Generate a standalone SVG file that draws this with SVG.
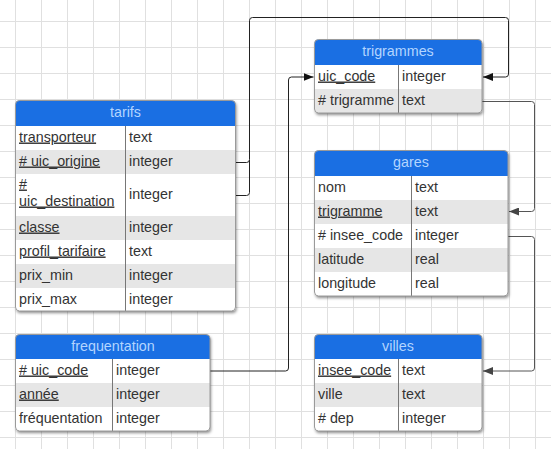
<svg xmlns="http://www.w3.org/2000/svg" width="551" height="449" viewBox="0 0 551 449">
<style>
  text { font-family: "Liberation Sans", Arial, sans-serif; font-size: 14.3px; fill: #333; }
  .hd { fill: #b3d5ff; text-anchor: middle; }
  .k { text-decoration: underline; }
  .bg { fill: #fff; filter: url(#sh); }
  .head { fill: #1a6fe3; }
  .alt { fill: #e6e6e6; }
  .brd { fill: none; stroke: #9a9a9a; stroke-width: 1; }
  .div { stroke: #777; stroke-width: 1; }
  .cd { fill: none; stroke: #222; stroke-width: 1; }
  .cg { fill: none; stroke: #555; stroke-width: 1; }
</style>
<defs>
  <pattern id="grid" x="15" y="21" width="26" height="26" patternUnits="userSpaceOnUse">
    <path d="M0.5,0 V26 M0,0.5 H26" fill="none" stroke="#e0e0e0" stroke-width="1"/>
  </pattern>
  <filter id="sh" x="-10%" y="-10%" width="120%" height="130%">
    <feDropShadow dx="1" dy="2" stdDeviation="1.5" flood-color="#000" flood-opacity="0.45"/>
  </filter>
  <marker id="ab" viewBox="0 0 10 8" refX="10" refY="4" markerWidth="10" markerHeight="8" markerUnits="userSpaceOnUse" orient="auto">
    <path d="M0,0 L10,4 L0,8 Z" fill="#111"/>
  </marker>
  <marker id="ag" viewBox="0 0 10 8" refX="10" refY="4" markerWidth="10" markerHeight="8" markerUnits="userSpaceOnUse" orient="auto">
    <path d="M0,0 L10,4 L0,8 Z" fill="#444"/>
  </marker>
</defs>
<rect x="0" y="0" width="551" height="449" fill="#fff"/>
<rect x="0" y="0" width="551" height="449" fill="url(#grid)"/>

<g id="connectors">
  <path class="cd" d="M236,162.5 H246.5 Q249.5,162.5 249.5,159.5 V20.5 Q249.5,17.5 252.5,17.5 H505.5 Q508.5,17.5 508.5,20.5 V74 Q508.5,77 505.5,77 H483" marker-end="url(#ab)"/>
  <path class="cd" d="M236,195.5 H246.5 Q249.5,195.5 249.5,192.5 V160"/>
  <path class="cd" d="M210,371 H285.5 Q288.5,371 288.5,368 V80 Q288.5,77 291.5,77 H313.5" marker-end="url(#ab)"/>
  <path class="cg" d="M482,101.5 H531.5 Q534.5,101.5 534.5,104.5 V208.5 Q534.5,211.5 531.5,211.5 H509" marker-end="url(#ag)"/>
  <path class="cg" d="M508,236.5 H531.5 Q534.5,236.5 534.5,239.5 V368 Q534.5,371 531.5,371 H483" marker-end="url(#ag)"/>
</g>

<g id="tarifs">
  <rect class="bg" x="15.5" y="100.5" width="220" height="210.5" rx="4"/>
  <path class="head" d="M15.5,126 V104.5 Q15.5,100.5 19.5,100.5 H231.5 Q235.5,100.5 235.5,104.5 V126 Z"/>
  <rect class="alt" x="15.5" y="150" width="220" height="24"/>
  <rect class="alt" x="15.5" y="216" width="220" height="24"/>
  <rect class="alt" x="15.5" y="264" width="220" height="24"/>
  <line class="div" x1="125.5" y1="126" x2="125.5" y2="311"/>
  <rect class="brd" x="15.5" y="100.5" width="220" height="210.5" rx="4"/>
  <text class="hd" x="125.5" y="116.5">tarifs</text>
  <text class="k" x="19" y="141.5">transporteur</text><text x="129" y="141.5">text</text>
  <text class="k" x="19" y="165.5"># uic_origine</text><text x="129" y="165.5">integer</text>
  <text class="k" x="19" y="188.5">#</text><text class="k" x="19" y="205.5">uic_destination</text><text x="129" y="198.5">integer</text>
  <text class="k" x="19" y="231.5">classe</text><text x="129" y="231.5">integer</text>
  <text class="k" x="19" y="255.5">profil_tarifaire</text><text x="129" y="255.5">text</text>
  <text x="19" y="279.5">prix_min</text><text x="129" y="279.5">integer</text>
  <text x="19" y="303.5">prix_max</text><text x="129" y="303.5">integer</text>
</g>

<g id="trigrammes">
  <rect class="bg" x="314.5" y="39.5" width="167.5" height="73.5" rx="4"/>
  <path class="head" d="M314.5,65 V43.5 Q314.5,39.5 318.5,39.5 H478 Q482,39.5 482,43.5 V65 Z"/>
  <path class="alt" d="M314.5,89 H482 V109 Q482,113 478,113 H318.5 Q314.5,113 314.5,109 Z"/>
  <line class="div" x1="398.5" y1="65" x2="398.5" y2="113"/>
  <rect class="brd" x="314.5" y="39.5" width="167.5" height="73.5" rx="4"/>
  <text class="hd" x="398" y="55.5">trigrammes</text>
  <text class="k" x="318" y="80.5">uic_code</text><text x="402" y="80.5">integer</text>
  <text x="318" y="104.5"># trigramme</text><text x="402" y="104.5">text</text>
</g>

<g id="gares">
  <rect class="bg" x="314.5" y="150.5" width="193.5" height="145.5" rx="4"/>
  <path class="head" d="M314.5,176 V154.5 Q314.5,150.5 318.5,150.5 H504 Q508,150.5 508,154.5 V176 Z"/>
  <rect class="alt" x="314.5" y="200" width="193.5" height="24"/>
  <rect class="alt" x="314.5" y="248" width="193.5" height="24"/>
  <line class="div" x1="411.5" y1="176" x2="411.5" y2="296"/>
  <rect class="brd" x="314.5" y="150.5" width="193.5" height="145.5" rx="4"/>
  <text class="hd" x="411" y="166.5">gares</text>
  <text x="318" y="191.5">nom</text><text x="415" y="191.5">text</text>
  <text class="k" x="318" y="215.5">trigramme</text><text x="415" y="215.5">text</text>
  <text x="318" y="239.5"># insee_code</text><text x="415" y="239.5">integer</text>
  <text x="318" y="263.5">latitude</text><text x="415" y="263.5">real</text>
  <text x="318" y="287.5">longitude</text><text x="415" y="287.5">real</text>
</g>

<g id="frequentation">
  <rect class="bg" x="15.5" y="334.5" width="194.5" height="96.5" rx="4"/>
  <path class="head" d="M15.5,359 V338.5 Q15.5,334.5 19.5,334.5 H206 Q210,334.5 210,338.5 V359 Z"/>
  <rect class="alt" x="15.5" y="383" width="194.5" height="24"/>
  <line class="div" x1="112.5" y1="359" x2="112.5" y2="431"/>
  <rect class="brd" x="15.5" y="334.5" width="194.5" height="96.5" rx="4"/>
  <text class="hd" x="113" y="350.5">frequentation</text>
  <text class="k" x="19" y="374.5"># uic_code</text><text x="116" y="374.5">integer</text>
  <text class="k" x="19" y="398.5">année</text><text x="116" y="398.5">integer</text>
  <text x="19" y="422.5">fréquentation</text><text x="116" y="422.5">integer</text>
</g>

<g id="villes">
  <rect class="bg" x="314.5" y="334.5" width="167.5" height="96.5" rx="4"/>
  <path class="head" d="M314.5,359 V338.5 Q314.5,334.5 318.5,334.5 H478 Q482,334.5 482,338.5 V359 Z"/>
  <rect class="alt" x="314.5" y="383" width="167.5" height="24"/>
  <line class="div" x1="398.5" y1="359" x2="398.5" y2="431"/>
  <rect class="brd" x="314.5" y="334.5" width="167.5" height="96.5" rx="4"/>
  <text class="hd" x="398" y="350.5">villes</text>
  <text class="k" x="318" y="374.5">insee_code</text><text x="402" y="374.5">text</text>
  <text x="318" y="398.5">ville</text><text x="402" y="398.5">text</text>
  <text x="318" y="422.5"># dep</text><text x="402" y="422.5">integer</text>
</g>
</svg>
